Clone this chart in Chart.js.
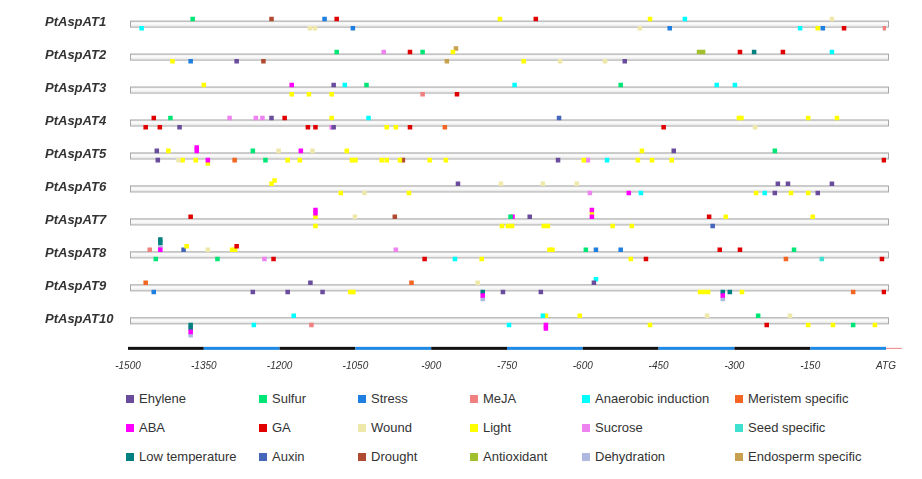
<!DOCTYPE html>
<html>
<head>
<meta charset="utf-8">
<script src="https://cdn.jsdelivr.net/npm/chart.js@4"></script>
<style>
  body { margin: 0; background: #fff; font-family: Arial, "Liberation Sans", sans-serif; }
  #wrap { position: relative; width: 922px; height: 479px; }
  #c { position: absolute; left: 0; top: 0; }
  .lg { position: absolute; font-size: 13px; color: #333; white-space: nowrap; }
  .lg i { position: absolute; left: 0; top: 4px; width: 8px; height: 8px; }
  .lg span { position: absolute; left: 13px; top: 0; }
</style>
</head>
<body>
<div id="wrap">
  <canvas id="c" width="922" height="380"></canvas>
</div>
<script>
	'use strict';

	// element types (legend order, column by column across rows)
	var types = ['Ehylene','Sulfur','Stress','MeJA','Anaerobic induction','Meristem specific',
		'ABA','GA','Wound','Light','Sucrose','Seed specific',
		'Low temperature','Auxin','Drought','Antioxidant','Dehydration','Endosperm specific'];
	var typeColors = ['#6a4c9c','#00e676','#1e7fe0','#f08080','#00ffff','#f26522',
		'#ff00ff','#e00000','#eee8aa','#ffff00','#ee82ee','#40e0d0',
		'#008080','#4466bb','#b04a30','#a0c030','#b0b8e0','#c8a050'];
	var E=0,SU=1,ST=2,MJ=3,AN=4,ME=5,AB=6,GA=7,WO=8,LI=9,SC=10,SE=11,LT=12,AU=13,DR=14,AO=15,DH=16,EN=17;

	var genes = ['PtAspAT1','PtAspAT2','PtAspAT3','PtAspAT4','PtAspAT5','PtAspAT6','PtAspAT7','PtAspAT8','PtAspAT9','PtAspAT10'];
	var xTicks = [-1500,-1350,-1200,-1050,-900,-750,-600,-450,-300,-150,0];

	// [position bp, type, level]  level > 0 above the track, < 0 below
	var at1 = [[-1372,SU,1],[-1216,DR,1],[-1111,ST,1],[-1087,GA,1],[-764,LI,1],[-693,GA,1],[-467,LI,1],[-398,AN,1],[-107,WO,1],
		[-1473,AN,-1],[-1140,WO,-1],[-1130,WO,-1],[-1055,ST,-1],[-487,WO,-1],[-428,ST,-1],[-170,AN,-1],[-135,LI,-1],[-125,ST,-1],[-83,GA,-1],[-2,MJ,-1]];
	var at2 = [[-1087,SU,1],[-994,SC,1],[-942,GA,1],[-917,SU,1],[-857,LI,1],[-851,EN,2],[-370,AO,1],[-362,AO,1],[-289,GA,1],[-261,LT,1],[-204,GA,1],[-107,AN,1],
		[-1412,LI,-1],[-1376,ST,-1],[-1285,E,-1],[-1232,DR,-1],[-869,EN,-1],[-717,LI,-1],[-645,WO,-1],[-556,WO,-1],[-517,E,-1]];
	var at3 = [[-1350,LI,1],[-1176,AB,1],[-1093,E,1],[-1071,AN,1],[-1028,SU,1],[-735,AN,1],[-525,SU,1],[-335,AN,1],[-299,AN,1],
		[-1176,LI,-1],[-1142,LI,-1],[-1097,LI,-1],[-917,MJ,-1],[-849,GA,-1]];
	var at4 = [[-1449,GA,1],[-1416,SU,1],[-1299,SC,1],[-1247,SC,1],[-1234,SC,1],[-1216,E,1],[-1190,GA,1],[-1097,LI,1],[-1024,AN,1],[-647,AU,1],[-291,LI,1],[-286,LI,1],[-154,LI,1],[-97,LI,1],
		[-1465,GA,-1],[-1437,GA,-1],[-1398,E,-1],[-1144,GA,-1],[-1129,GA,-1],[-1097,SC,-1],[-1093,E,-1],[-988,LI,-1],[-970,LI,-1],[-942,GA,-1],[-873,ME,-1],[-440,GA,-1],[-259,WO,-1]];
	var at5 = [[-1443,E,1],[-1420,LI,1],[-1364,AB,1],[-1364,AB,2],[-1253,SU,1],[-1202,WO,1],[-1158,AB,1],[-1135,WO,1],[-1067,LI,1],[-483,LI,1],[-420,E,1],[-220,SU,1],
		[-1441,E,-1],[-1400,WO,-1],[-1392,LI,-1],[-1366,LI,-1],[-1342,AB,-1],[-1342,LI,-2],[-1289,ME,-1],[-1228,SU,-1],[-1184,LI,-1],[-1160,LI,-1],[-1057,LI,-1],[-1050,LI,-1],
		[-998,LI,-1],[-988,LI,-1],[-962,LI,-1],[-956,DR,-1],[-903,LI,-1],[-871,LI,-1],[-649,E,-1],[-598,LI,-1],[-590,SC,-1],[-552,AN,-1],[-491,LI,-1],[-463,LI,-1],[-424,LI,-1],[-4,GA,-1]];
	var at6 = [[-1216,LI,1],[-1210,LI,2],[-847,E,1],[-762,WO,1],[-679,WO,1],[-612,WO,1],[-214,E,1],[-194,E,1],[-107,E,1],
		[-1079,LI,-1],[-1032,WO,-1],[-944,LI,-1],[-586,SC,-1],[-509,AB,-1],[-485,AN,-1],[-257,LI,-1],[-240,AN,-1],[-220,E,-1],[-188,LI,-1],[-154,LI,-1],[-135,E,-1]];
	var at7 = [[-1376,GA,1],[-1129,LI,1],[-1129,AB,2],[-1129,AB,3],[-1051,WO,1],[-972,DR,1],[-743,SU,1],[-739,AB,1],[-705,E,1],[-582,AB,1],[-582,LI,2],[-582,AB,3],[-350,GA,1],[-317,LI,1],[-145,LI,1],
		[-1129,LI,-1],[-760,LI,-1],[-748,LI,-1],[-740,LI,-1],[-677,LI,-1],[-669,LI,-1],[-541,LI,-1],[-503,LI,-1],[-343,AU,-1]];
	var at8 = [[-1457,MJ,1],[-1436,AB,1],[-1436,DH,2],[-1436,LT,3],[-1436,LT,4],[-1390,AU,1],[-1384,LI,2],[-1342,WO,1],[-1294,LI,1],[-1288,LI,1],[-1285,GA,2],[-970,SC,1],
		[-666,LI,1],[-660,LI,1],[-594,SU,1],[-574,ST,1],[-525,ST,1],[-329,GA,1],[-289,GA,1],[-182,SU,1],
		[-1445,SU,-1],[-1323,SU,-1],[-1230,SC,-1],[-1212,GA,-1],[-913,GA,-1],[-853,AN,-1],[-800,LI,-1],[-505,LI,-1],[-475,GA,-1],[-198,ME,-1],[-127,SE,-1],[-8,GA,-1]];
	var at9 = [[-1465,ME,1],[-1139,E,1],[-939,ME,1],[-808,WO,1],[-578,E,1],[-574,AN,2],
		[-1449,ST,-1],[-1253,E,-1],[-1184,E,-1],[-1115,E,-1],[-1060,LI,-1],[-1054,LI,-1],[-798,LT,-1],[-798,AB,-2],[-798,DH,-3],[-758,E,-1],[-683,E,-1],
		[-368,LI,-1],[-360,LI,-1],[-352,LI,-1],[-323,LT,-1],[-323,AB,-2],[-323,DH,-3],[-309,LT,-1],[-285,LI,-1],[-65,ME,-1],[-4,GA,-1]];
	var at10 = [[-1172,AN,1],[-679,AN,1],[-673,LI,1],[-606,LI,1],[-354,WO,1],[-253,SU,1],[-190,WO,1],
		[-1376,LT,-1],[-1376,LT,-2],[-1376,AB,-3],[-1376,DH,-4],[-1251,AN,-1],[-1137,MJ,-1],[-746,AN,-1],[-673,AB,-1],[-673,AB,-2],
		[-467,LI,-1],[-236,GA,-1],[-154,LI,-1],[-105,LI,-1],[-65,SU,-1],[-22,LI,-1]];
	var rows = [at1,at2,at3,at4,at5,at6,at7,at8,at9,at10];

	// one scatter dataset per element type
	var datasets = types.map(function(name, t){
		var pts = [];
		rows.forEach(function(list, r){
			list.forEach(function(m){
				if (m[1] !== t) return;
				var lv = Math.abs(m[2]);
				var off = 0.14 + (lv - 1) * 0.105;
				pts.push({ x: m[0], y: m[2] > 0 ? r - off : r + off });
			});
		});
		return {
			label: name, data: pts,
			pointStyle: 'rect', pointRadius: 3.2, pointHoverRadius: 3.2,
			pointBorderWidth: 0, backgroundColor: typeColors[t], borderColor: typeColors[t]
		};
	});

	var trackPlugin = {
		id: 'tracks',
		beforeDatasetsDraw: function(chart){
			var ctx = chart.ctx, xs = chart.scales.x, ys = chart.scales.y;
			var x0 = xs.getPixelForValue(-1500) + 2, x1 = xs.getPixelForValue(0) + 2;
			ctx.save();
			genes.forEach(function(g, r){
				var y = ys.getPixelForValue(r);
				var grd = ctx.createLinearGradient(0, y - 3, 0, y + 3);
				grd.addColorStop(0, '#e8e8e8'); grd.addColorStop(0.5, '#fcfcfc'); grd.addColorStop(1, '#e6e6e6');
				ctx.fillStyle = grd;
				ctx.fillRect(x0, y - 3, x1 - x0, 6);
				ctx.strokeStyle = '#a8a8a8'; ctx.lineWidth = 1;
				ctx.strokeRect(x0 + 0.5, y - 3 + 0.5, x1 - x0, 6);
				ctx.fillStyle = '#333';
				ctx.font = 'italic bold 13px Arial, "Liberation Sans"';
				ctx.textAlign = 'left'; ctx.textBaseline = 'middle';
				ctx.fillText(g, 45, y - 1);
			});
			// scale bar
			var yb = ys.getPixelForValue(9.85);
			for (var i = 0; i < xTicks.length - 1; i++) {
				var a = xs.getPixelForValue(xTicks[i]), b = xs.getPixelForValue(xTicks[i + 1]);
				ctx.fillStyle = i % 2 === 0 ? '#111111' : '#1e88e5';
				ctx.fillRect(a, yb - 1.5, b - a, 3);
			}
			ctx.fillStyle = '#f08080';
			ctx.fillRect(xs.getPixelForValue(0), yb - 0.5, 16, 1);
			ctx.restore();
		}
	};

	new Chart(document.getElementById('c'), {
		type: 'scatter',
		data: { datasets: datasets },
		options: {
			responsive: false, animation: false,
			layout: { padding: { left: 128, right: 36, top: 0, bottom: 6 } },
			plugins: { legend: { display: false }, tooltip: { enabled: false } },
			scales: {
				x: {
					type: 'linear', min: -1500, max: 0,
					afterBuildTicks: function(s){ s.ticks = xTicks.map(function(v){ return { value: v }; }); },
					ticks: {
						callback: function(v){ return v === 0 ? 'ATG' : v; },
						font: { size: 10, style: 'italic', family: 'Arial, "Liberation Sans"' },
						color: '#333', padding: 2, maxRotation: 0, autoSkip: false
					},
					grid: { display: false }, border: { display: false }
				},
				y: { display: false, reverse: true, min: -0.62, max: 9.9 }
			}
		},
		plugins: [trackPlugin]
	});

	// legend
	var colX = [126, 259, 358, 470, 582, 735];
	var rowY = [391, 420, 449];
	var wrap = document.getElementById('wrap');
	types.forEach(function(name, t){
		var d = document.createElement('div');
		d.className = 'lg';
		d.style.left = colX[t % 6] + 'px';
		d.style.top = rowY[Math.floor(t / 6)] + 'px';
		d.innerHTML = '<i style="background:' + typeColors[t] + '"></i><span>' + name + '</span>';
		wrap.appendChild(d);
	});
</script>
</body>
</html>
